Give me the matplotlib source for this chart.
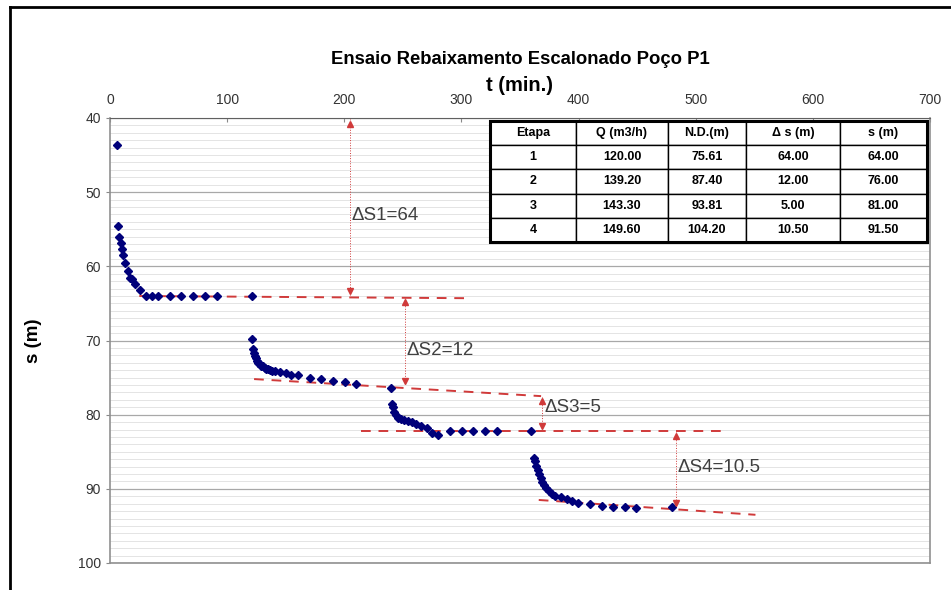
import matplotlib
matplotlib.use("Agg")
import matplotlib.pyplot as plt
from matplotlib.lines import Line2D

plt.rcParams['font.family'] = ['Liberation Sans', 'DejaVu Sans']

# drawdown readings, time in minutes, s in metres
t1 = [6, 7, 8, 9, 10, 11, 13, 15, 17, 19, 21, 26, 31, 36, 41, 51, 61, 71, 81, 91, 121]
s1 = [43.7, 54.5, 56.1, 56.9, 57.7, 58.5, 59.6, 60.6, 61.6, 61.7, 62.4, 63.2,
      64.0, 64.0, 64.0, 64.0, 64.0, 64.0, 64.0, 64.0, 64.0]
t2 = [121.5, 122, 122.7, 123.5, 124.4, 125.5, 126.6, 127.8, 129.2, 130.6, 132, 133.5,
      134.9, 136.3, 138.3, 140.5, 145.4, 149.9, 154.7, 160.4, 170.4, 180.3, 190.2,
      200.2, 210.1, 240]
s2 = [69.8, 71.2, 71.7, 72.1, 72.4, 72.7, 73.0, 73.2, 73.4, 73.5, 73.7, 73.8,
      73.9, 74.0, 74.1, 74.1, 74.3, 74.4, 74.6, 74.7, 75.0, 75.2, 75.4,
      75.6, 75.8, 76.4]
t3 = [240.5, 241.3, 242.8, 244.2, 246.2, 248.5, 251.3, 254.1, 257.5, 261.2, 265.5,
      270.3, 274.6, 280.2, 290.2, 300.1, 310.3, 320.3, 330.2, 359.7]
s3 = [78.5, 79.0, 79.6, 80.0, 80.4, 80.6, 80.7, 80.9, 81.0, 81.3, 81.5,
      81.8, 82.5, 82.8, 82.2, 82.2, 82.2, 82.2, 82.2, 82.2]
t4 = [362, 362.9, 364, 365.2, 366.3, 367.7, 369.1, 370.8, 372.5, 374.8, 377.1, 379.6,
      384.7, 389.9, 394.6, 399.8, 409.4, 419.7, 429.6, 439.5, 449.2, 479.8]
s4 = [85.8, 86.3, 86.9, 87.5, 88.0, 88.6, 89.1, 89.5, 89.9, 90.3, 90.7, 91.0,
      91.1, 91.4, 91.6, 91.9, 92.1, 92.3, 92.4, 92.5, 92.6, 92.5]

# trend lines (start/end) per stage
trend_t = [(25, 308), (123, 368), (214, 526), (366, 551)]
trend_s = [(64.0, 64.3), (75.2, 77.5), (82.2, 82.2), (91.5, 93.5)]

# delta-s markers: x position, top, bottom, label
delta_t = [205, 252, 369, 483]
delta_top = [40.2, 64.3, 77.6, 82.3]
delta_bot = [63.9, 76.0, 82.1, 92.4]
delta_lbl = ["ΔS1=64", "ΔS2=12", "ΔS3=5", "ΔS4=10.5"]
delta_lbl_s = [53.2, 71.3, 79.1, 87.1]

table_cols = ["Etapa", "Q (m3/h)", "N.D.(m)", "Δ s (m)", "s (m)"]
table_rows = [["1", "120.00", "75.61", "64.00", "64.00"],
              ["2", "139.20", "87.40", "12.00", "76.00"],
              ["3", "143.30", "93.81", "5.00", "81.00"],
              ["4", "149.60", "104.20", "10.50", "91.50"]]

fig = plt.figure(figsize=(9.51, 5.9), dpi=100)
ax = fig.add_axes([110 / 951, 1 - 563 / 590, 820 / 951, 445 / 590])

red = "#d03a3a"
for (ta, tb), (sa, sb) in zip(trend_t, trend_s):
    ax.plot([ta, tb], [sa, sb], color=red, lw=1.4, dashes=(5, 4), zorder=3)

for t, s in [(t1, s1), (t2, s2), (t3, s3), (t4, s4)]:
    ax.plot(t, s, 'D', color="#00007a", markersize=3.6, zorder=4)

for x, a, b, lbl, ly in zip(delta_t, delta_top, delta_bot, delta_lbl, delta_lbl_s):
    ax.plot([x, x], [a, b], color=red, lw=0.7, ls=':', zorder=3)
    ax.plot([x], [a + 0.55], marker='^', color=red, markersize=5, zorder=5)
    ax.plot([x], [b - 0.55], marker='v', color=red, markersize=5, zorder=5)
    ax.text(x + 1.5, ly, lbl, fontsize=13.5, color="#404040", va='center', ha='left')

ax.set_xlim(0, 700)
ax.set_ylim(100, 40)
ax.xaxis.tick_top()
ax.xaxis.set_label_position('top')
ax.set_xticks(range(0, 701, 100))
ax.set_yticks(range(40, 101, 10))
ax.set_yticks(range(40, 101, 1), minor=True)
ax.tick_params(axis='both', labelsize=10, colors="#333333", length=3, color="#888888")
ax.tick_params(axis='x', length=3, direction='in', pad=8)
ax.tick_params(axis='y', which='minor', length=0)
ax.grid(True, axis='y', which='major', color="#a8a8a8", lw=0.9)
ax.grid(True, axis='y', which='minor', color="#e4e4e4", lw=0.7)
ax.set_axisbelow(True)
for side in ['left', 'right', 'bottom']:
    ax.spines[side].set_color("#909090")
    ax.spines[side].set_linewidth(1.2)
ax.spines['top'].set_color("#606060")

ax.set_xlabel("t (min.)", fontsize=14.5, fontweight='bold', labelpad=1.5)
ax.set_ylabel("s (m)", fontsize=13.5, fontweight='bold', labelpad=26)
fig.text(520 / 951, 1 - 60 / 590, "Ensaio Rebaixamento Escalonado Poço P1",
         fontsize=13.3, fontweight='bold', ha='center', va='center')

# summary table
tb_left, tb_right = (490 - 110) / 820, (927 - 110) / 820
tb_top, tb_bot = 1 - (121 - 118) / 445, 1 - (242 - 118) / 445
widths = [85.7, 92.6, 77.4, 94.3, 87.0]
tot = sum(widths)
tbl = ax.table(cellText=table_rows, colLabels=table_cols, cellLoc='center',
               colWidths=[w / tot * (tb_right - tb_left) for w in widths],
               bbox=[tb_left, tb_bot, tb_right - tb_left, tb_top - tb_bot], zorder=6)
tbl.auto_set_font_size(False)
for (r, c), cell in tbl.get_celld().items():
    cell.set_facecolor("white")
    cell.set_edgecolor("black")
    cell.set_linewidth(1.0)
    cell.get_text().set_fontsize(9)
    cell.get_text().set_fontweight('bold')
ax.add_patch(plt.Rectangle((tb_left, tb_bot), tb_right - tb_left, tb_top - tb_bot,
                           transform=ax.transAxes, fill=False, lw=2.2,
                           edgecolor="black", zorder=7, clip_on=False))

# outer chart frame
fig.add_artist(Line2D([10 / 951, 10 / 951], [0, 1 - 7 / 590], color="black", lw=2))
fig.add_artist(Line2D([10 / 951, 1], [1 - 7 / 590, 1 - 7 / 590], color="black", lw=2))

fig.savefig("out.png", dpi=100, facecolor="white")
